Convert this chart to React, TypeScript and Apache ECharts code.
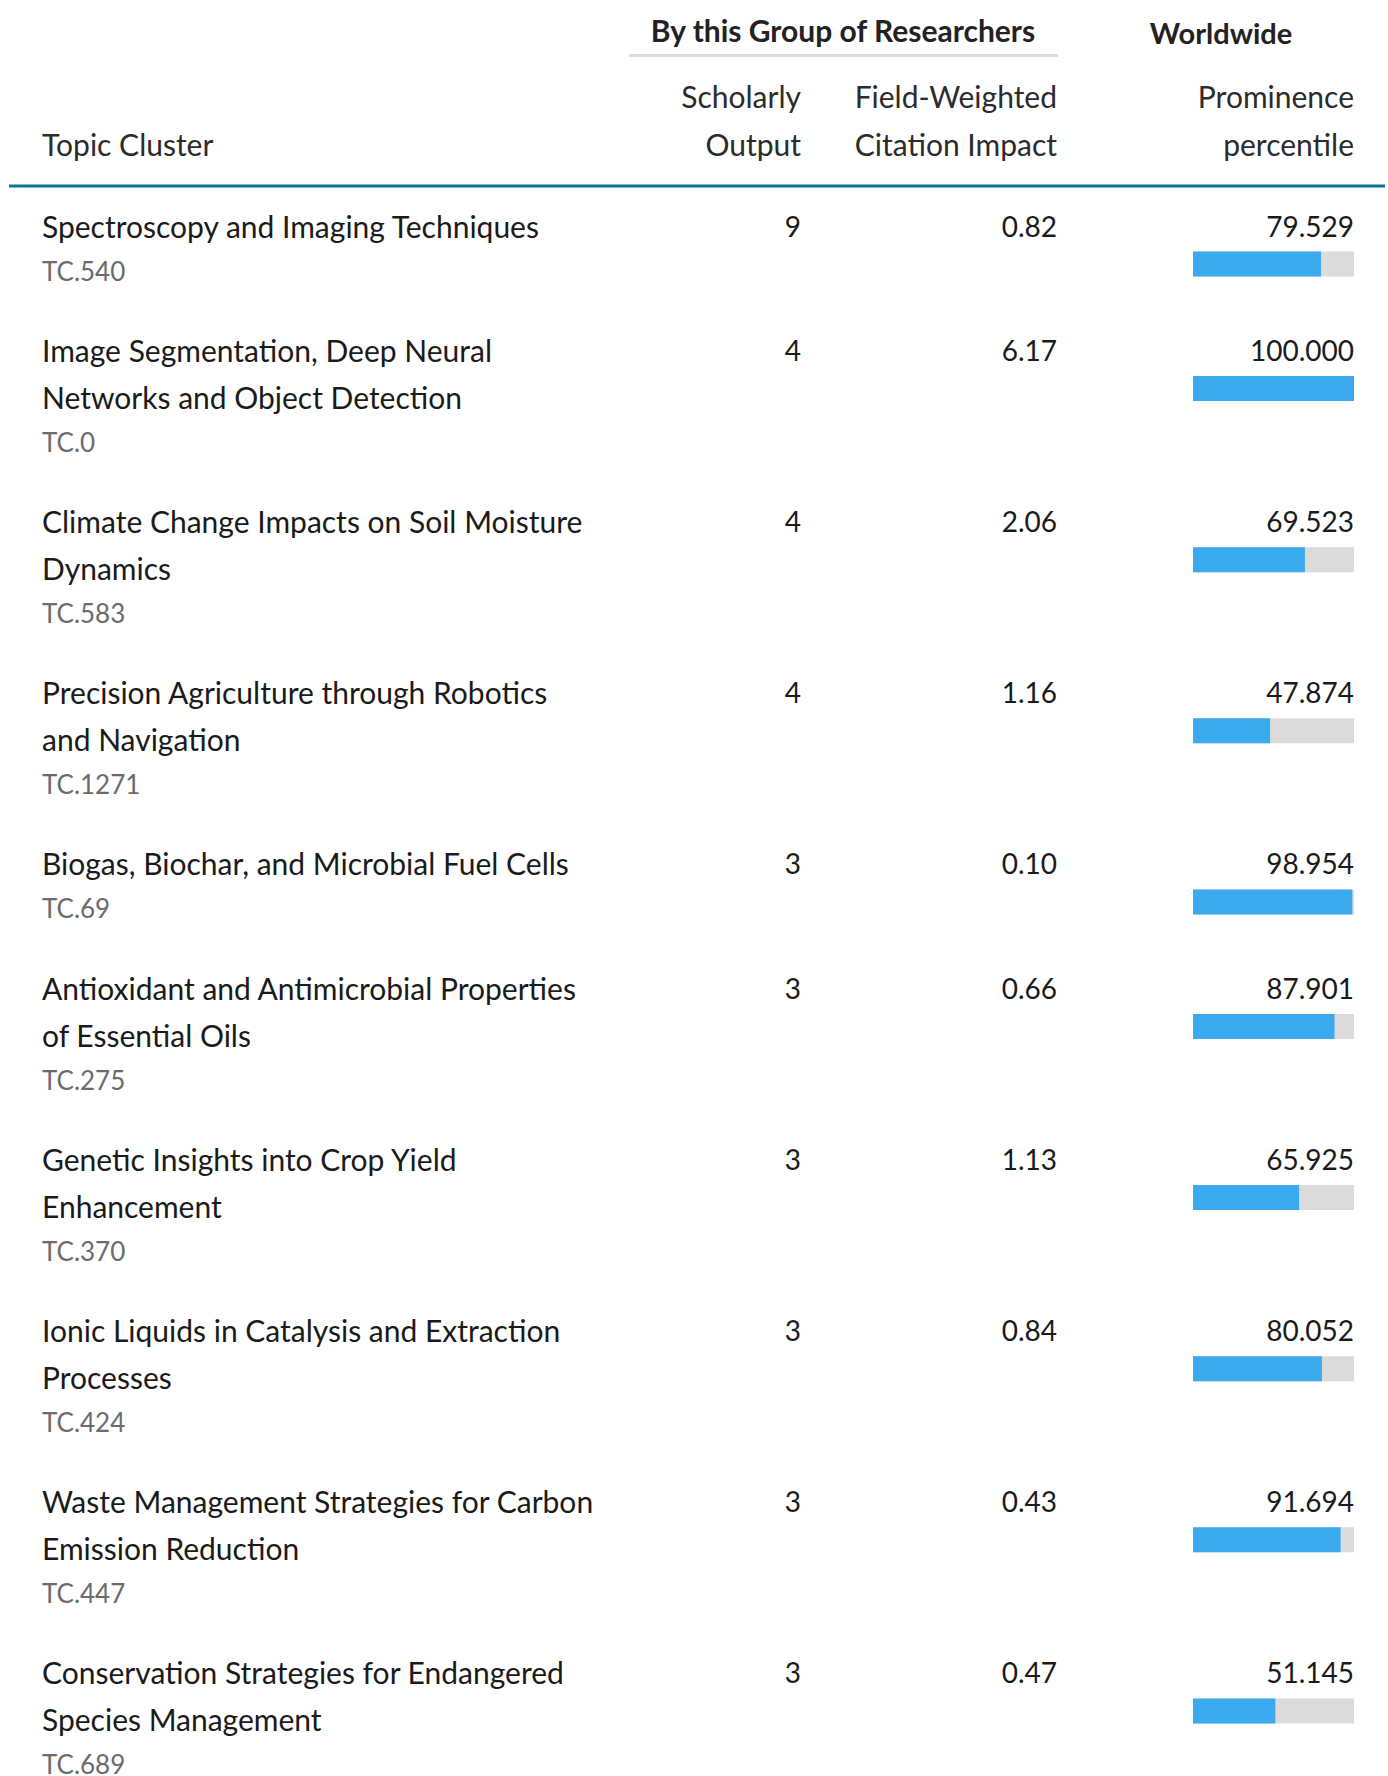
import React, { useEffect, useRef } from "react";
import * as echarts from "echarts";

const topics: string[] = [
  "Spectroscopy and Imaging Techniques",
  "Image Segmentation, Deep Neural\nNetworks and Object Detection",
  "Climate Change Impacts on Soil Moisture\nDynamics",
  "Precision Agriculture through Robotics\nand Navigation",
  "Biogas, Biochar, and Microbial Fuel Cells",
  "Antioxidant and Antimicrobial Properties\nof Essential Oils",
  "Genetic Insights into Crop Yield\nEnhancement",
  "Ionic Liquids in Catalysis and Extraction\nProcesses",
  "Waste Management Strategies for Carbon\nEmission Reduction",
  "Conservation Strategies for Endangered\nSpecies Management",
];
const codes: string[] = [
  "TC.540", "TC.0", "TC.583", "TC.1271", "TC.69",
  "TC.275", "TC.370", "TC.424", "TC.447", "TC.689",
];
const scholarlyOutput: number[] = [9, 4, 4, 4, 3, 3, 3, 3, 3, 3];
const fwci: number[] = [0.82, 6.17, 2.06, 1.16, 0.1, 0.66, 1.13, 0.84, 0.43, 0.47];
const percentile: number[] = [79.529, 100.0, 69.523, 47.874, 98.954, 87.901, 65.925, 80.052, 91.694, 51.145];

const W = 1388;
const H = 1776;
const FONT = "Lato, 'Open Sans', sans-serif";

export default function App() {
  const ref = useRef<HTMLDivElement>(null);
  useEffect(() => {
    if (!ref.current) return;
    const chart = echarts.init(ref.current, null, { renderer: "svg" });

    const lineH = 46.5;
    const tcOff = 45;
    const gap = 79.6;
    const textX = 42;
    const outX = 801;
    const fwX = 1057;
    const pctX = 1354;
    const barLeft = 1193;
    const barW = 161;

    const graphics: any[] = [];
    const grids: any[] = [];
    const xAxes: any[] = [];
    const yAxes: any[] = [];
    const series: any[] = [];

    const txt = (text: string, x: number, y: number, opts: any = {}) => ({
      type: "text",
      x,
      y,
      silent: true,
      style: {
        text,
        fill: opts.fill || "#1a1a1a",
        fontSize: opts.fontSize || 30,
        fontWeight: opts.fontWeight || "normal",
        fontFamily: FONT,
        textAlign: opts.align || "left",
        textVerticalAlign: opts.vAlign || "middle",
        lineHeight: opts.lineHeight,
      },
    });

    // header
    graphics.push(txt("By this Group of Researchers", 843, 30, { fontWeight: "bold", align: "center", fontSize: 30, fill: "#222" }));
    graphics.push(txt("Worldwide", 1221, 32, { fontWeight: "bold", align: "center", fontSize: 29, fill: "#222" }));
    graphics.push({
      type: "line",
      silent: true,
      shape: { x1: 629, y1: 55.5, x2: 1058, y2: 55.5 },
      style: { stroke: "#dcdcdc", lineWidth: 3 },
    });
    graphics.push(txt("Scholarly", outX, 96, { align: "right", fill: "#2b2b2b" }));
    graphics.push(txt("Output", outX, 144, { align: "right", fill: "#2b2b2b" }));
    graphics.push(txt("Field-Weighted", fwX, 96, { align: "right", fill: "#2b2b2b" }));
    graphics.push(txt("Citation Impact", fwX, 144, { align: "right", fill: "#2b2b2b" }));
    graphics.push(txt("Prominence", pctX, 96, { align: "right", fill: "#2b2b2b" }));
    graphics.push(txt("percentile", pctX, 144, { align: "right", fill: "#2b2b2b" }));
    graphics.push(txt("Topic Cluster", textX, 144, { fill: "#2b2b2b" }));
    graphics.push({
      type: "line",
      silent: true,
      shape: { x1: 9, y1: 186, x2: 1385, y2: 186 },
      style: { stroke: "#0a7398", lineWidth: 3 },
    });

    let y = 225.5;
    topics.forEach((t, i) => {
      const nLines = t.split("\n").length;
      graphics.push(
        txt(t, textX, y - lineH / 2, { vAlign: "top", lineHeight: lineH })
      );
      const tcY = y + (nLines - 1) * lineH + tcOff;
      graphics.push(txt(codes[i], textX, tcY, { fontSize: 26, fill: "#6b6b6b" }));
      graphics.push(txt(String(scholarlyOutput[i]), outX, y, { align: "right", fontSize: 28 }));
      graphics.push(txt(fwci[i].toFixed(2), fwX, y, { align: "right", fontSize: 28 }));
      graphics.push(txt(percentile[i].toFixed(3), pctX, y, { align: "right", fontSize: 28 }));

      grids.push({ left: barLeft, width: barW, top: y + 26, height: 25, containLabel: false });
      xAxes.push({ type: "value", gridIndex: i, min: 0, max: 100, show: false });
      yAxes.push({ type: "category", gridIndex: i, data: [codes[i]], show: false });
      series.push({
        type: "bar",
        xAxisIndex: i,
        yAxisIndex: i,
        data: [percentile[i]],
        barWidth: "100%",
        showBackground: true,
        backgroundStyle: { color: "#dddbd9" },
        itemStyle: { color: "#3ba9ee" },
        silent: true,
      });

      y = tcY + gap;
    });

    chart.setOption({
      animation: false,
      backgroundColor: "#ffffff",
      grid: grids,
      xAxis: xAxes,
      yAxis: yAxes,
      series,
      graphic: graphics,
    });
    return () => chart.dispose();
  }, []);

  return (
    <div
      ref={ref}
      style={{ position: "absolute", left: 0, top: 0, width: W, height: H }}
    />
  );
}
